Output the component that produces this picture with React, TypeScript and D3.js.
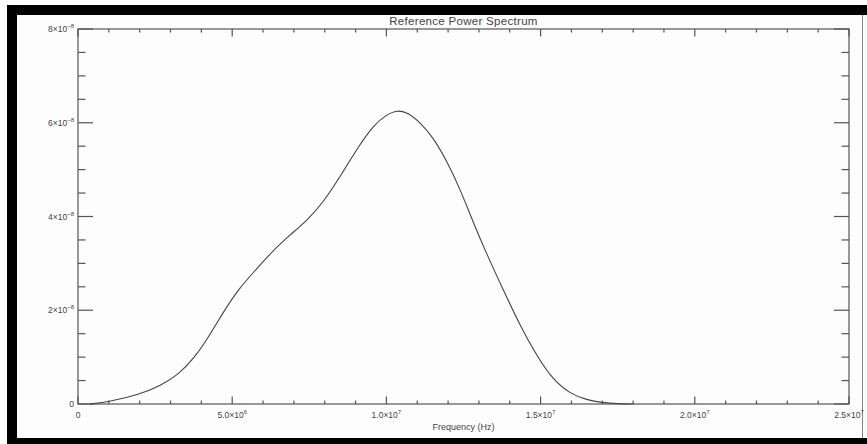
import React, { useEffect, useRef } from "react";
import * as d3 from "d3";

// frequency in Hz, power (units of 1e-8)
const freqs = [
  0.4e6, 1.0e6, 1.95e6, 2.7e6, 3.25e6, 3.8e6, 4.3e6, 4.75e6, 5.2e6, 5.75e6,
  6.3e6, 6.9e6, 7.45e6, 7.95e6, 8.5e6, 9.05e6, 9.6e6, 10.0e6, 10.35e6, 10.7e6,
  11.1e6, 11.5e6, 11.95e6, 12.4e6, 12.8e6, 13.25e6, 13.8e6, 14.35e6, 14.9e6,
  15.4e6, 15.95e6, 16.5e6, 17.0e6, 17.5e6, 18.0e6,
];
const power = [
  0, 0.05, 0.19, 0.4, 0.62, 1.0, 1.5, 2.0, 2.45, 2.85,
  3.26, 3.62, 3.93, 4.3, 4.85, 5.45, 5.96, 6.17, 6.27, 6.22,
  6.0, 5.7, 5.2, 4.57, 3.9, 3.2, 2.42, 1.65, 1.0,
  0.52, 0.22, 0.085, 0.03, 0.005, 0,
];

const xTickVals = [0, 5e6, 1e7, 1.5e7, 2e7, 2.5e7];
const xTickLabels = [["0", ""], ["5.0×10", "6"], ["1.0×10", "7"], ["1.5×10", "7"], ["2.0×10", "7"], ["2.5×10", "7"]];
const yTickVals = [0, 2e-8, 4e-8, 6e-8, 8e-8];
const yTickLabels = [["0", ""], ["2×10", "−8"], ["4×10", "−8"], ["6×10", "−8"], ["8×10", "−8"]];

const W = 867;
const H = 444;
const plot = { left: 78, right: 849, top: 29, bottom: 404 };

export default function App() {
  const svgRef = useRef<SVGSVGElement>(null);

  useEffect(() => {
    const svg = d3.select(svgRef.current);
    svg.selectAll("*").remove();

    // frame
    svg.append("rect").attr("x", 0).attr("y", 0).attr("width", W).attr("height", H).attr("fill", "white");
    svg.append("rect").attr("x", 7).attr("y", 5).attr("width", W).attr("height", H).attr("fill", "#000");
    svg.append("rect").attr("x", 17).attr("y", 15).attr("width", W - 17).attr("height", 423).attr("fill", "#fdfdfd");
    svg.append("line").attr("x1", 862.5).attr("x2", 862.5).attr("y1", 15).attr("y2", 438)
      .attr("stroke", "#888").attr("stroke-width", 1);

    const x = d3.scaleLinear().domain([0, 2.5e7]).range([plot.left, plot.right]);
    const y = d3.scaleLinear().domain([0, 8e-8]).range([plot.bottom, plot.top]);

    const axisColor = "#555";
    const g = svg.append("g").attr("stroke", axisColor).attr("stroke-width", 1.2).attr("fill", "none");

    g.append("rect")
      .attr("x", plot.left).attr("y", plot.top)
      .attr("width", plot.right - plot.left).attr("height", plot.bottom - plot.top);

    // x ticks (bottom + top)
    const xMinor = d3.range(0, 2.5e7 + 1, 1e6);
    xMinor.forEach((v) => {
      const major = Math.abs(v % 5e6) < 1;
      const len = major ? 7.5 : 3.5;
      g.append("line").attr("x1", x(v)).attr("x2", x(v)).attr("y1", plot.bottom).attr("y2", plot.bottom - len);
      g.append("line").attr("x1", x(v)).attr("x2", x(v)).attr("y1", plot.top).attr("y2", plot.top + len);
    });

    // y ticks (left + right)
    const yMinor = d3.range(0, 8e-8 + 1e-12, 0.5e-8);
    yMinor.forEach((v, i) => {
      const major = i % 4 === 0;
      const len = major ? 15 : 7.5;
      g.append("line").attr("x1", plot.left).attr("x2", plot.left + len).attr("y1", y(v)).attr("y2", y(v));
      g.append("line").attr("x1", plot.right).attr("x2", plot.right - len).attr("y1", y(v)).attr("y2", y(v));
    });

    const font = "'Liberation Sans', Arial, sans-serif";
    const txt = svg.append("g").attr("fill", "#444").attr("font-family", font);

    xTickVals.forEach((v, i) => {
      const t = txt.append("text").attr("x", x(v)).attr("y", 418).attr("text-anchor", "middle").attr("font-size", 8.5);
      t.append("tspan").text(xTickLabels[i][0]);
      if (xTickLabels[i][1]) t.append("tspan").attr("dy", -4).attr("font-size", 6).text(xTickLabels[i][1]);
    });

    yTickVals.forEach((v, i) => {
      const t = txt.append("text").attr("x", 74).attr("y", y(v) + 3).attr("text-anchor", "end").attr("font-size", 8.5);
      t.append("tspan").text(yTickLabels[i][0]);
      if (yTickLabels[i][1]) t.append("tspan").attr("dy", -4).attr("font-size", 6).text(yTickLabels[i][1]);
    });

    txt.append("text").attr("x", (plot.left + plot.right) / 2).attr("y", 430)
      .attr("text-anchor", "middle").attr("font-size", 9).text("Frequency (Hz)");
    txt.append("text").attr("x", (plot.left + plot.right) / 2).attr("y", 25)
      .attr("text-anchor", "middle").attr("font-size", 11.5).attr("letter-spacing", 0.3).text("Reference Power Spectrum");

    const data = freqs.map((f, i) => [f, power[i] * 1e-8] as [number, number]);
    const line = d3.line<[number, number]>()
      .x((d) => x(d[0]))
      .y((d) => y(d[1]))
      .curve(d3.curveBasis);

    svg.append("path").datum(data).attr("d", line).attr("fill", "none")
      .attr("stroke", "#444").attr("stroke-width", 1.1);
  }, []);

  return (
    <svg ref={svgRef} width={W} height={H} style={{ position: "absolute", left: 0, top: 0 }} />
  );
}
